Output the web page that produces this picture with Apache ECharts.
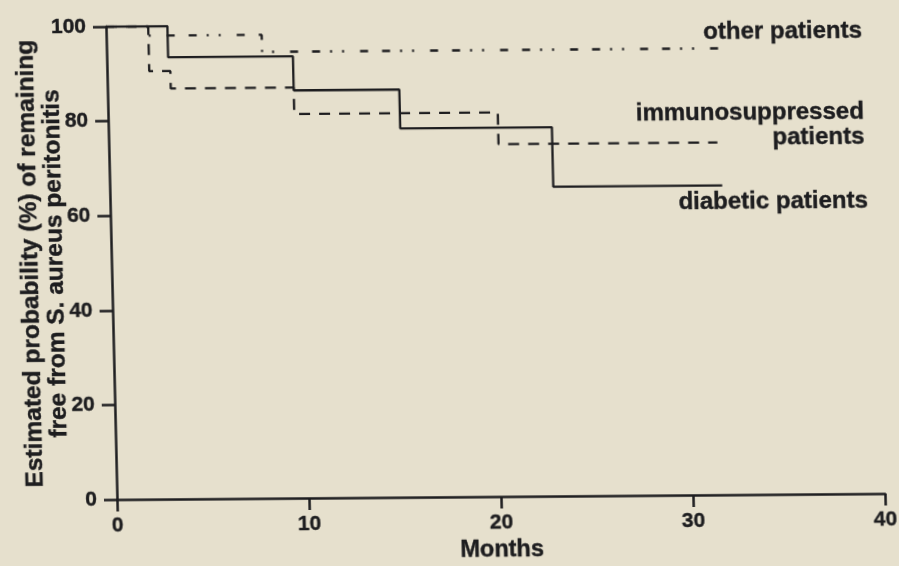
<!DOCTYPE html>
<html>
<head>
<meta charset="utf-8">
<script src="https://cdn.jsdelivr.net/npm/echarts@6/dist/echarts.min.js"></script>
<style>
  html, body { margin: 0; padding: 0; background: #e6e0cd; }
  /* the reference is a photo of a printed page: slight shear */
  #chart { width: 899px; height: 566px; transform: matrix(1, -0.0078, 0.0233, 1, 0, 0); }
</style>
</head>
<body>
<div id="chart"></div>
<script>
// Kaplan-Meier steps (months, % free)
const diabeticMonths = [0, 3.2, 9.7, 15.2, 23.1, 31.9]
const diabeticSurv = [100, 93.4, 86.2, 78.0, 65.4, 65.4]

const immunoMonths = [0, 2.2, 3.3, 9.7, 20.3, 31.7]
const immunoSurv = [100, 90.5, 86.8, 81.2, 74.5, 74.5]

const otherMonths = [0, 2.2, 8.1, 32.0]
const otherSurv = [100, 98.0, 94.4, 94.4]

const xTicks = [0, 10, 20, 30, 40]
const yTicks = [0, 20, 40, 60, 80, 100]

const ink = '#1d1d1f'
const font = 'Liberation Sans, Arial, sans-serif'

function pairs(xs, ys) {
  return xs.map((x, i) => [x, ys[i]])
}

const myChart = echarts.init(document.getElementById('chart'))
myChart.setOption({
  backgroundColor: 'transparent',
  animation: false,
  grid: {
    left: 112,
    right: 19,
    top: 24,
    bottom: 69,
    containLabel: false,
    outerBoundsMode: 'none'
  },
  xAxis: {
    type: 'value',
    min: xTicks[0],
    max: xTicks[xTicks.length - 1],
    interval: xTicks[1] - xTicks[0],
    name: 'Months',
    nameLocation: 'middle',
    nameGap: 42,
    nameMoveOverlap: false,
    nameTextStyle: { color: ink, fontFamily: font, fontWeight: 'bold', fontSize: 23.5, textBorderColor: ink, textBorderWidth: 0.4 },
    axisLine: { lineStyle: { color: ink, width: 2.5 } },
    axisTick: { show: true, inside: false, length: 12, lineStyle: { color: ink, width: 2.5 } },
    axisLabel: { color: ink, fontFamily: font, fontWeight: 'bold', fontSize: 21, margin: 16, textBorderColor: ink, textBorderWidth: 0.4 },
    splitLine: { show: false }
  },
  yAxis: {
    type: 'value',
    min: yTicks[0],
    max: yTicks[yTicks.length - 1],
    interval: yTicks[1] - yTicks[0],
    name: 'Estimated probability (%) of remaining\nfree from S. aureus peritonitis',
    nameLocation: 'middle',
    nameRotate: 90,
    nameGap: 43,
    nameMoveOverlap: false,
    nameTextStyle: { color: ink, fontFamily: font, fontWeight: 'bold', fontSize: 24.5, lineHeight: 25, textBorderColor: ink, textBorderWidth: 0.4 },
    axisLine: { show: true, lineStyle: { color: ink, width: 2.5 } },
    axisTick: { show: true, inside: false, length: 13, lineStyle: { color: ink, width: 2.5 } },
    axisLabel: { color: ink, fontFamily: font, fontWeight: 'bold', fontSize: 21, margin: 20, textBorderColor: ink, textBorderWidth: 0.4 },
    splitLine: { show: false }
  },
  series: [
    {
      name: 'diabetic patients',
      type: 'line',
      step: 'end',
      symbol: 'none',
      data: pairs(diabeticMonths, diabeticSurv),
      lineStyle: { color: ink, width: 2.3 }
    },
    {
      name: 'immunosuppressed patients',
      type: 'line',
      step: 'end',
      symbol: 'none',
      data: pairs(immunoMonths, immunoSurv),
      lineStyle: { color: ink, width: 2.3, type: [11, 9] }
    },
    {
      name: 'other patients',
      type: 'line',
      step: 'end',
      symbol: 'none',
      data: pairs(otherMonths, otherSurv),
      lineStyle: { color: ink, width: 2.3, type: [8, 14, 8, 10, 2, 10, 2, 16] }
    }
  ],
  graphic: [
    {
      type: 'text', right: 31, top: 22,
      style: { text: 'other patients', fill: ink, font: 'bold 24px ' + font, textAlign: 'right', stroke: ink, lineWidth: 0.4 }
    },
    {
      type: 'text', right: 31, top: 103,
      style: { text: 'immunosuppressed\npatients', fill: ink, font: 'bold 24px ' + font, textAlign: 'right', lineHeight: 25, stroke: ink, lineWidth: 0.4 }
    },
    {
      type: 'text', right: 29, top: 192,
      style: { text: 'diabetic patients', fill: ink, font: 'bold 24px ' + font, textAlign: 'right', stroke: ink, lineWidth: 0.4 }
    }
  ]
})
</script>
</body>
</html>
